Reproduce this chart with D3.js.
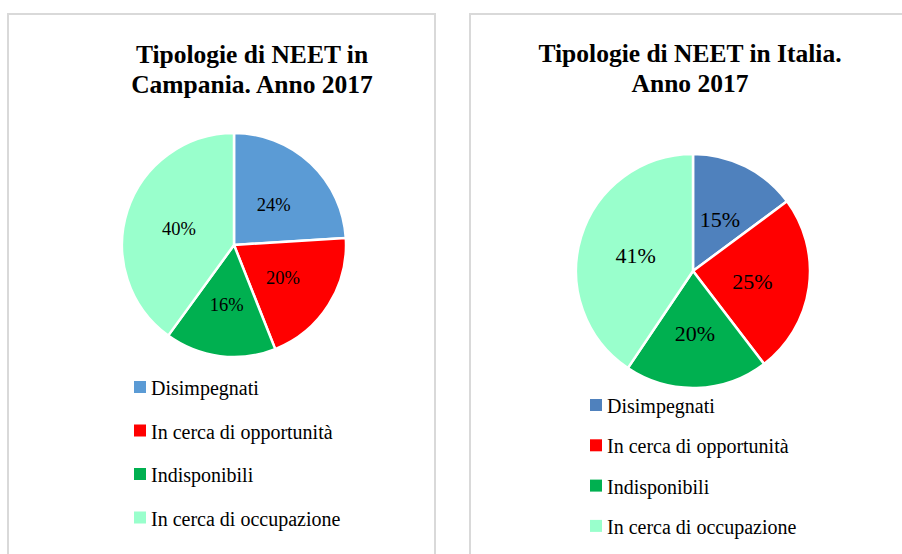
<!DOCTYPE html>
<html lang="it">
<head>
<meta charset="UTF-8">
<title>Tipologie di NEET</title>
<script src="https://d3js.org/d3.v7.min.js"></script>
<style>
    body { margin: 0; background: #fff; }
    text { font-family: "Liberation Serif", "DejaVu Serif", serif; fill: #000; }
    .title { font-weight: bold; font-size: 25.5px; }
    .legend text { font-size: 20px; }
</style>
</head>
<body>
<svg id="chart"></svg>
<script>
    // categories and values
    var categories = ["Disimpegnati", "In cerca di opportunità", "Indisponibili", "In cerca di occupazione"];
    var campaniaValues = [24, 20, 16, 40];
    var italiaValues = [15, 25, 20, 41];
    var campaniaColors = ["#5B9BD5", "#FF0000", "#00B050", "#99FFCC"];
    var italiaColors = ["#4F81BD", "#FF0000", "#00B050", "#99FFCC"];

    var svg = d3.select("#chart").attr("width", 902).attr("height", 554);

    // panel definitions (layout only)
    var panels = [
        {
            box: [8, 14, 427, 560],
            title: ["Tipologie di NEET in", "Campania. Anno 2017"],
            titleX: 252, titleY: 63,
            cx: 234, cy: 245, r: 112, labelR: 58, labelSize: 18.5,
            values: campaniaValues, colors: campaniaColors,
            legendX: 134, legendY: 381, legendStep: 43.5
        },
        {
            box: [470, 14, 450, 560],
            title: ["Tipologie di NEET in Italia.", "Anno 2017"],
            titleX: 690, titleY: 62,
            cx: 693, cy: 271, r: 117, labelR: 60, labelSize: 22,
            values: italiaValues, colors: italiaColors,
            legendX: 590, legendY: 399, legendStep: 40.3
        }
    ];

    panels.forEach(function(p) {
        var g = svg.append("g");

        g.append("rect")
            .attr("x", p.box[0]).attr("y", p.box[1])
            .attr("width", p.box[2]).attr("height", p.box[3])
            .attr("fill", "#fff")
            .attr("stroke", "#D9D9D9")
            .attr("stroke-width", 2);

        // title
        g.append("text")
            .attr("class", "title")
            .attr("text-anchor", "middle")
            .selectAll("tspan")
            .data(p.title)
            .enter().append("tspan")
            .attr("x", p.titleX)
            .attr("y", function(d, i) { return p.titleY + i * 30; })
            .text(function(d) { return d; });

        var pie = d3.pie().sort(null);
        var arc = d3.arc().innerRadius(0).outerRadius(p.r);
        var labelArc = d3.arc().innerRadius(p.labelR).outerRadius(p.labelR);
        var color = d3.scaleOrdinal().domain(d3.range(categories.length)).range(p.colors);

        var slices = g.append("g")
            .attr("transform", "translate(" + p.cx + "," + p.cy + ")")
            .selectAll("g")
            .data(pie(p.values))
            .enter().append("g");

        slices.append("path")
            .attr("d", arc)
            .attr("fill", function(d, i) { return color(i); })
            .attr("stroke", "#fff")
            .attr("stroke-width", 2.5)
            .attr("stroke-linejoin", "round");

        slices.append("text")
            .attr("transform", function(d) { return "translate(" + labelArc.centroid(d) + ")"; })
            .attr("text-anchor", "middle")
            .attr("dy", "0.45em")
            .style("font-size", p.labelSize + "px")
            .text(function(d) { return d.data + "%"; });

        // legend
        var legend = g.append("g").attr("class", "legend")
            .selectAll("g")
            .data(categories)
            .enter().append("g")
            .attr("transform", function(d, i) {
                return "translate(" + p.legendX + "," + (p.legendY + i * p.legendStep) + ")";
            });

        legend.append("rect")
            .attr("width", 12).attr("height", 12)
            .attr("fill", function(d, i) { return color(i); });

        legend.append("text")
            .attr("x", 17)
            .attr("y", 14)
            .text(function(d) { return d; });
    });
</script>
</body>
</html>
